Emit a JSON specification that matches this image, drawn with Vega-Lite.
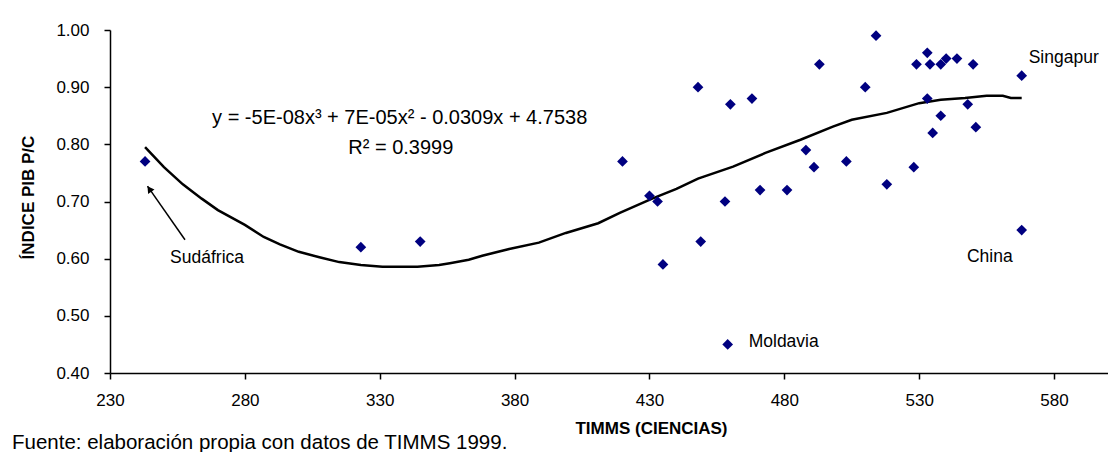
{
  "$schema": "https://vega.github.io/schema/vega-lite/v6.json",
  "width": 998,
  "height": 343,
  "autosize": {"type": "none"},
  "padding": {"left": 110, "top": 30, "right": 0, "bottom": 79},
  "background": "white",
  "config": {
    "view": {"stroke": null},
    "font": "Liberation Sans",
    "axis": {
      "grid": false,
      "domainColor": "black",
      "domainWidth": 1.5,
      "tickColor": "black",
      "tickWidth": 1.5,
      "tickSize": 6,
      "labelFlush": false,
      "labelOverlap": false,
      "labelFont": "Liberation Sans",
      "labelFontSize": 17,
      "labelColor": "black",
      "titleFont": "Liberation Sans",
      "titleFontSize": 17,
      "titleFontWeight": "bold",
      "titleColor": "black"
    }
  },
  "title": {
    "text": "Fuente: elaboración propia con datos de TIMMS 1999.",
    "orient": "bottom",
    "anchor": "start",
    "frame": "group",
    "font": "Liberation Sans",
    "fontSize": 20.5,
    "fontWeight": "normal",
    "color": "black",
    "dx": -98,
    "dy": -3,
    "offset": 0
  },
  "datasets": {
    "paises": [
      {"timss": 243, "pib": 0.77, "pais": "Sudáfrica"},
      {"timss": 323, "pib": 0.62, "pais": ""},
      {"timss": 345, "pib": 0.63, "pais": ""},
      {"timss": 420, "pib": 0.77, "pais": ""},
      {"timss": 430, "pib": 0.71, "pais": ""},
      {"timss": 433, "pib": 0.70, "pais": ""},
      {"timss": 435, "pib": 0.59, "pais": ""},
      {"timss": 448, "pib": 0.90, "pais": ""},
      {"timss": 449, "pib": 0.63, "pais": ""},
      {"timss": 458, "pib": 0.70, "pais": ""},
      {"timss": 459, "pib": 0.45, "pais": "Moldavia"},
      {"timss": 460, "pib": 0.87, "pais": ""},
      {"timss": 468, "pib": 0.88, "pais": ""},
      {"timss": 471, "pib": 0.72, "pais": ""},
      {"timss": 481, "pib": 0.72, "pais": ""},
      {"timss": 488, "pib": 0.79, "pais": ""},
      {"timss": 491, "pib": 0.76, "pais": ""},
      {"timss": 493, "pib": 0.94, "pais": ""},
      {"timss": 503, "pib": 0.77, "pais": ""},
      {"timss": 510, "pib": 0.90, "pais": ""},
      {"timss": 514, "pib": 0.99, "pais": ""},
      {"timss": 518, "pib": 0.73, "pais": ""},
      {"timss": 528, "pib": 0.76, "pais": ""},
      {"timss": 529, "pib": 0.94, "pais": ""},
      {"timss": 533, "pib": 0.96, "pais": ""},
      {"timss": 533, "pib": 0.88, "pais": ""},
      {"timss": 534, "pib": 0.94, "pais": ""},
      {"timss": 535, "pib": 0.82, "pais": ""},
      {"timss": 538, "pib": 0.94, "pais": ""},
      {"timss": 538, "pib": 0.85, "pais": ""},
      {"timss": 540, "pib": 0.95, "pais": ""},
      {"timss": 544, "pib": 0.95, "pais": ""},
      {"timss": 548, "pib": 0.87, "pais": ""},
      {"timss": 550, "pib": 0.94, "pais": ""},
      {"timss": 551, "pib": 0.83, "pais": ""},
      {"timss": 568, "pib": 0.92, "pais": "Singapur"},
      {"timss": 568, "pib": 0.65, "pais": "China"}
    ],
    "tendencia": [
      {"timss": 243, "pib": 0.795},
      {"timss": 250, "pib": 0.760},
      {"timss": 257, "pib": 0.730},
      {"timss": 264, "pib": 0.705},
      {"timss": 270, "pib": 0.685},
      {"timss": 280, "pib": 0.659},
      {"timss": 287, "pib": 0.638},
      {"timss": 293, "pib": 0.625},
      {"timss": 300, "pib": 0.612},
      {"timss": 308, "pib": 0.602},
      {"timss": 315, "pib": 0.594},
      {"timss": 323, "pib": 0.589},
      {"timss": 331, "pib": 0.586},
      {"timss": 337, "pib": 0.586},
      {"timss": 344, "pib": 0.586},
      {"timss": 352, "pib": 0.589},
      {"timss": 356, "pib": 0.592},
      {"timss": 363, "pib": 0.598},
      {"timss": 368, "pib": 0.605},
      {"timss": 378, "pib": 0.617},
      {"timss": 389, "pib": 0.628},
      {"timss": 399, "pib": 0.645},
      {"timss": 411, "pib": 0.662},
      {"timss": 419, "pib": 0.680},
      {"timss": 431, "pib": 0.705},
      {"timss": 440, "pib": 0.722},
      {"timss": 448, "pib": 0.740},
      {"timss": 461, "pib": 0.761},
      {"timss": 473, "pib": 0.785},
      {"timss": 486, "pib": 0.808},
      {"timss": 498, "pib": 0.831},
      {"timss": 505, "pib": 0.843},
      {"timss": 518, "pib": 0.855},
      {"timss": 530, "pib": 0.872},
      {"timss": 538, "pib": 0.878},
      {"timss": 547, "pib": 0.881},
      {"timss": 555, "pib": 0.885},
      {"timss": 561, "pib": 0.885},
      {"timss": 564, "pib": 0.881},
      {"timss": 568, "pib": 0.881}
    ],
    "ecuacion": [
      {"timss": 337.4, "pib": 0.846, "texto": "y = -5E-08x³ + 7E-05x² - 0.0309x + 4.7538"},
      {"timss": 337.8, "pib": 0.794, "texto": "R² = 0.3999"}
    ],
    "flecha": [
      {"timss": 257.8, "pib": 0.633, "timss2": 243.9, "pib2": 0.727}
    ],
    "punta": [
      {"timss": 244.6, "pib": 0.722}
    ]
  },
  "layer": [
    {
      "data": {"name": "tendencia"},
      "mark": {"type": "line", "color": "black", "strokeWidth": 2.5, "clip": true},
      "encoding": {
        "x": {
          "field": "timss", "type": "quantitative",
          "scale": {"domain": [230, 600], "nice": false, "zero": false},
          "axis": {
            "title": "TIMMS (CIENCIAS)",
            "values": [230, 280, 330, 380, 430, 480, 530, 580],
            "format": "d",
            "labelPadding": 13,
            "titleX": 541,
            "titleY": 55,
            "titleBaseline": "middle",
            "titleAnchor": "start",
            "titleAlign": "center"
          }
        },
        "y": {
          "field": "pib", "type": "quantitative",
          "scale": {"domain": [0.4, 1.0], "nice": false, "zero": false},
          "axis": {
            "title": "ÍNDICE PIB P/C",
            "values": [0.4, 0.5, 0.6, 0.7, 0.8, 0.9, 1.0],
            "format": ".2f",
            "labelPadding": 15,
            "titleX": -82,
            "titleY": 167,
            "titleBaseline": "middle",
            "titleAlign": "center",
            "titleAngle": -90
          }
        }
      }
    },
    {
      "data": {"name": "paises"},
      "mark": {"type": "point", "shape": "diamond", "filled": true, "color": "#000080", "opacity": 1, "size": 115},
      "encoding": {
        "x": {"field": "timss", "type": "quantitative"},
        "y": {"field": "pib", "type": "quantitative"}
      }
    },
    {
      "data": {"name": "paises"},
      "transform": [{"filter": "datum.pais == 'Singapur'"}],
      "mark": {"type": "text", "align": "left", "baseline": "middle", "dx": 7, "dy": -18, "fontSize": 17.5, "color": "black", "font": "Liberation Sans"},
      "encoding": {
        "x": {"field": "timss", "type": "quantitative"},
        "y": {"field": "pib", "type": "quantitative"},
        "text": {"field": "pais"}
      }
    },
    {
      "data": {"name": "paises"},
      "transform": [{"filter": "datum.pais == 'China'"}],
      "mark": {"type": "text", "align": "right", "baseline": "middle", "dx": -9, "dy": 27, "fontSize": 17.5, "color": "black", "font": "Liberation Sans"},
      "encoding": {
        "x": {"field": "timss", "type": "quantitative"},
        "y": {"field": "pib", "type": "quantitative"},
        "text": {"field": "pais"}
      }
    },
    {
      "data": {"name": "paises"},
      "transform": [{"filter": "datum.pais == 'Moldavia'"}],
      "mark": {"type": "text", "align": "left", "baseline": "middle", "dx": 21, "dy": -2, "fontSize": 17.5, "color": "black", "font": "Liberation Sans"},
      "encoding": {
        "x": {"field": "timss", "type": "quantitative"},
        "y": {"field": "pib", "type": "quantitative"},
        "text": {"field": "pais"}
      }
    },
    {
      "data": {"name": "paises"},
      "transform": [{"filter": "datum.pais == 'Sudáfrica'"}],
      "mark": {"type": "text", "align": "center", "baseline": "middle", "dx": 62, "dy": 97, "fontSize": 17.5, "color": "black", "font": "Liberation Sans"},
      "encoding": {
        "x": {"field": "timss", "type": "quantitative"},
        "y": {"field": "pib", "type": "quantitative"},
        "text": {"field": "pais"}
      }
    },
    {
      "data": {"name": "flecha"},
      "mark": {"type": "rule", "color": "black", "strokeWidth": 1.5},
      "encoding": {
        "x": {"field": "timss", "type": "quantitative"},
        "y": {"field": "pib", "type": "quantitative"},
        "x2": {"field": "timss2"},
        "y2": {"field": "pib2"}
      }
    },
    {
      "data": {"name": "punta"},
      "mark": {"type": "point", "shape": "triangle-up", "filled": true, "color": "black", "opacity": 1, "size": 60, "angle": 325},
      "encoding": {
        "x": {"field": "timss", "type": "quantitative"},
        "y": {"field": "pib", "type": "quantitative"}
      }
    },
    {
      "data": {"name": "ecuacion"},
      "mark": {"type": "text", "align": "center", "baseline": "middle", "fontSize": 20, "color": "black", "font": "Liberation Sans"},
      "encoding": {
        "x": {"field": "timss", "type": "quantitative"},
        "y": {"field": "pib", "type": "quantitative"},
        "text": {"field": "texto"}
      }
    }
  ]
}
